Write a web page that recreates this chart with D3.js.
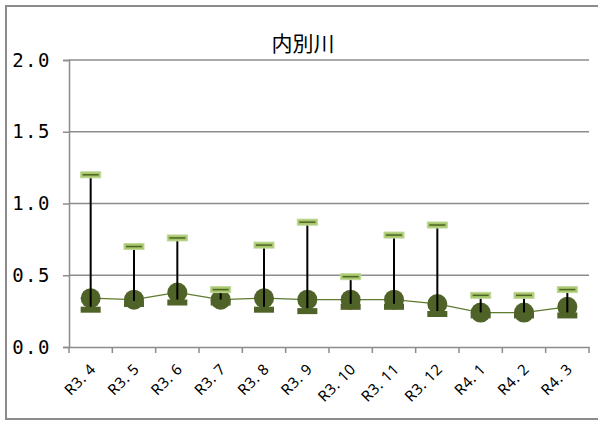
<!DOCTYPE html>
<html>
<head>
<meta charset="utf-8">
<script src="https://cdn.jsdelivr.net/npm/d3@7"></script>
<style>
  body { margin: 0; background: #fff; }
  svg { display: block; }
</style>
</head>
<body>
<div id="chart"></div>
<script>
const months = ['R3.4', 'R3.5', 'R3.6', 'R3.7', 'R3.8', 'R3.9', 'R3.10', 'R3.11', 'R3.12', 'R4.1', 'R4.2', 'R4.3']
const maxVals = [1.20, 0.70, 0.76, 0.40, 0.71, 0.87, 0.49, 0.78, 0.85, 0.36, 0.36, 0.40]
const meanVals = [0.34, 0.33, 0.38, 0.33, 0.34, 0.33, 0.33, 0.33, 0.30, 0.24, 0.24, 0.28]
const minVals = [0.26, 0.30, 0.31, 0.31, 0.26, 0.25, 0.28, 0.28, 0.23, 0.22, 0.22, 0.22]
const yTicks = [0, 0.5, 1.0, 1.5, 2.0]

const width = 598
const height = 421
const margin = { top: 60, right: 9, bottom: 74, left: 69 }

const svg = d3.select('#chart')
            .append('svg')
            .attr('width', width)
            .attr('height', height)

// outer frame
svg.append('rect')
   .attr('x', 6).attr('y', 6)
   .attr('width', width + 10).attr('height', 413)
   .attr('fill', 'none')
   .attr('stroke', '#8c8c8c')
   .attr('stroke-width', 2)

svg.append('text')
   .attr('x', 303).attr('y', 51)
   .attr('text-anchor', 'middle')
   .attr('font-family', '"Noto Sans CJK JP", sans-serif')
   .attr('font-size', 21)
   .attr('fill', '#000')
   .text('内別川')

const x = d3.scaleBand()
            .domain(months)
            .range([margin.left, width - margin.right])

const y = d3.scaleLinear()
            .domain([0, 2])
            .range([height - margin.bottom, margin.top])

// gridlines
svg.append('g')
   .selectAll('line')
   .data(yTicks.filter(d => d > 0))
   .enter()
   .append('line')
   .attr('x1', margin.left)
   .attr('x2', width - margin.right)
   .attr('y1', d => y(d))
   .attr('y2', d => y(d))
   .attr('stroke', '#8c8c8c')
   .attr('stroke-width', 1.5)

const yAxis = svg.append('g')
   .attr('transform', `translate(${margin.left}, 0)`)
   .call(d3.axisLeft(y).tickValues(yTicks).tickFormat(d3.format('.1f')).tickSize(6).tickPadding(12))
yAxis.select('.domain').attr('stroke', '#8c8c8c').attr('stroke-width', 1.5)
yAxis.selectAll('.tick line').attr('stroke', '#8c8c8c').attr('stroke-width', 1.5)
yAxis.selectAll('.tick text')
     .attr('font-family', '"DejaVu Sans Mono", monospace')
     .attr('font-size', 19)
     .attr('letter-spacing', 1.5)
     .attr('fill', '#000')

const xAxis = svg.append('g')
   .attr('transform', `translate(0, ${height - margin.bottom})`)
   .call(d3.axisBottom(x).tickSize(0).tickFormat(d => d.replace('.', '. ')))
xAxis.select('.domain').attr('stroke', '#8c8c8c').attr('stroke-width', 1.5)

// category boundary ticks
xAxis.selectAll('.bound')
     .data(d3.range(months.length + 1))
     .enter()
     .append('line')
     .attr('x1', i => margin.left + i * x.step())
     .attr('x2', i => margin.left + i * x.step())
     .attr('y1', 0).attr('y2', 6)
     .attr('stroke', '#8c8c8c')
     .attr('stroke-width', 1.5)

xAxis.selectAll('.tick text')
     .attr('font-family', '"Noto Sans", sans-serif')
     .attr('font-size', 15)
     .attr('letter-spacing', 0.5)
     .attr('fill', '#000')
     .attr('text-anchor', 'end')
     .attr('dy', 0)
     .attr('transform', 'translate(4, 21) rotate(-45)')

const cx = d => x(d) + x.bandwidth() / 2

// line through means
svg.append('path')
   .datum(months)
   .attr('fill', 'none')
   .attr('stroke', '#5e7a2e')
   .attr('stroke-width', 1.2)
   .attr('d', d3.line().x(d => cx(d)).y((d, i) => y(meanVals[i])))

svg.selectAll('.mean')
   .data(months)
   .enter()
   .append('circle')
   .attr('cx', d => cx(d))
   .attr('cy', (d, i) => y(meanVals[i]))
   .attr('r', 10)
   .attr('fill', '#4f6228')

// high-low lines
svg.selectAll('.hl')
   .data(months)
   .enter()
   .append('line')
   .attr('x1', d => cx(d))
   .attr('x2', d => cx(d))
   .attr('y1', (d, i) => y(maxVals[i]))
   .attr('y2', (d, i) => y(minVals[i]))
   .attr('stroke', '#000')
   .attr('stroke-width', 2)

// min markers
svg.selectAll('.min')
   .data(months)
   .enter()
   .append('rect')
   .attr('x', d => cx(d) - 10)
   .attr('y', (d, i) => y(minVals[i]) - 3)
   .attr('width', 20)
   .attr('height', 6)
   .attr('fill', '#4f6228')

// max markers
const maxG = svg.selectAll('.max')
   .data(months)
   .enter()
   .append('g')
maxG.append('rect')
   .attr('x', d => cx(d) - 10)
   .attr('y', (d, i) => y(maxVals[i]) - 3)
   .attr('width', 20)
   .attr('height', 6)
   .attr('fill', '#a6c96a')
   .attr('stroke', '#c3d69b')
   .attr('stroke-width', 1)
maxG.append('line')
   .attr('x1', d => cx(d) - 8)
   .attr('x2', d => cx(d) + 8)
   .attr('y1', (d, i) => y(maxVals[i]))
   .attr('y2', (d, i) => y(maxVals[i]))
   .attr('stroke', '#4f6228')
   .attr('stroke-width', 1.5)
</script>
</body>
</html>
